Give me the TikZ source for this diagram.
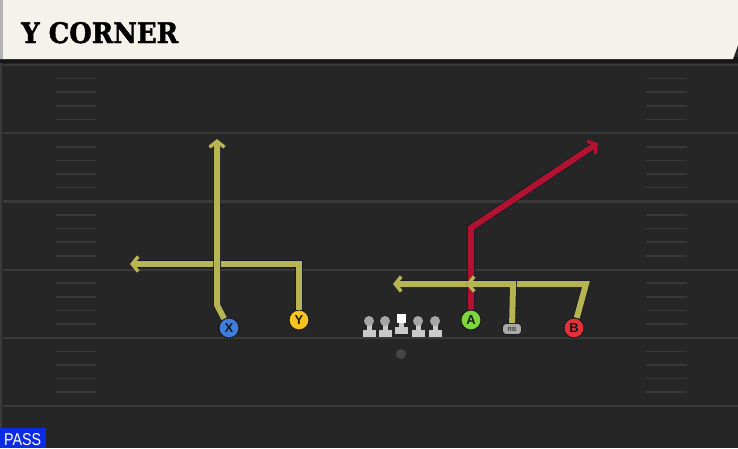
\documentclass[tikz,border=0pt]{standalone}
\usepackage{fontspec}
\setsansfont{Liberation Sans}
\newfontfamily\titlefont{DejaVu Serif}[BoldFeatures={FakeBold=1.5}]
\usetikzlibrary{arrows.meta}
\definecolor{fieldbg}{HTML}{262626}
\definecolor{headerbg}{HTML}{F5F2EB}
\definecolor{shadowbg}{HTML}{161616}
\definecolor{yardgray}{HTML}{3A3A3A}
\definecolor{hashgray}{HTML}{383838}
\definecolor{routeyellow}{HTML}{B7B551}
\definecolor{routered}{HTML}{B01230}
\definecolor{routeedge}{HTML}{15182A}
\definecolor{playeredge}{HTML}{1A1A1A}
\definecolor{xblue}{HTML}{3F7FDB}
\definecolor{yyellow}{HTML}{F6C41E}
\definecolor{agreen}{HTML}{7DD53B}
\definecolor{bred}{HTML}{E3313B}
\definecolor{rbgray}{HTML}{A9A9A9}
\definecolor{linegray}{HTML}{CACACA}
\definecolor{headgray}{HTML}{A5A5A5}
\definecolor{passblue}{HTML}{0B2BE4}
\tikzstyle{yardline}=[draw=yardgray, line width=2.2pt]
\tikzstyle{hashmark}=[draw=hashgray, line width=1.6pt]
\tikzstyle{route}=[line width=6pt, line join=miter,
    -{Straight Barb[length=6pt,width=15pt,line width=3.5pt]},
    preaction={draw=routeedge, line width=7.5pt}]
\tikzstyle{route_yellow}=[route, draw=routeyellow]
\tikzstyle{route_red}=[route, draw=routered]
\tikzstyle{player}=[circle, draw=playeredge, line width=1pt, minimum size=20pt,
    inner sep=0pt, text=playeredge, font=\sffamily\bfseries\fontsize{13}{13}\selectfont]
\begin{document}
\begin{tikzpicture}[x=1pt,y=-1pt]
          \useasboundingbox (0,0) rectangle (738,448);
          \fill[fieldbg] (0,0) rectangle (738,448);
          % header
          \fill[shadowbg] (0,57) rectangle (738,63);
          \fill[headerbg] (0,0) -- (738,0) -- (738,45) -- (733,59) -- (0,59) -- cycle;
          \fill[gray!60] (0,0) rectangle (2.5,59);
          \node[anchor=base west, inner sep=0pt] (title) at (21,43)
            {\resizebox{157pt}{21pt}{\titlefont\bfseries Y CORNER}};
          \draw[yardgray, line width=1.5pt] (1,63) -- (1,448);
          % field lines
          \foreach \yl in {65,133.2,201.4,269.6,337.8,406}
            \draw[yardline] (3,\yl) -- (738,\yl);
          \foreach \yl in {65,133.2,201.4,269.6,337.8}
            \foreach \k in {1,...,4} {
              \draw[hashmark] (56,{\yl+\k*13.6}) -- (96,{\yl+\k*13.6});
              \draw[hashmark] (646,{\yl+\k*13.6}) -- (687,{\yl+\k*13.6});
            }
          % players
          \node[player, fill=xblue] (X) at (229,328){X};
          \node[player, fill=yyellow] (Y) at (299,320){Y};
          \node[player, fill=agreen] (A) at (471,320){A};
          \node[player, fill=bred] (B) at (574,328){B};
          \node[rectangle, rounded corners=3.5pt, fill=rbgray, draw=playeredge, line width=0.8pt,
            minimum width=19pt, minimum height=11pt, inner sep=0pt,
            font=\sffamily\bfseries\fontsize{6}{6}\selectfont, text=black!75] (RB) at (512,329){RB};
          \node[circle, fill=gray!55!black, minimum size=10pt, inner sep=0pt] (QB) at (401,354){};
          % line
          \foreach \lx in {369,385,418,435} {
            \fill[linegray] (\lx-6.5,330) rectangle (\lx+6.5,337);
            \fill[linegray] (\lx-2.5,322) rectangle (\lx+2.5,331);
            \fill[headgray] (\lx,321) circle (5);
          }
          \fill[linegray] (394.5,327) rectangle (407.5,334);
          \fill[linegray] (398.5,321) rectangle (403.5,328);
          \fill[white] (396.5,313.5) rectangle (406,323);
          % coordinates
          \coordinate (x_bend) at (217,305);
          \coordinate (x_end) at (217,139);
          \coordinate (y_bend) at (299,264);
          \coordinate (y_end) at (130,264);
          \coordinate (a_bend) at (471,228);
          \coordinate (a_end) at (598,143);
          \coordinate (b_bend) at (586,284);
          \coordinate (b_end) at (393,284);
          \coordinate (rb_bend) at (513,284);
          \coordinate (rb_end) at (466,284);
          % routes
          \draw[route_red](A) -- (a_bend) -- (a_end);
          \draw[route_yellow](Y) -- (y_bend) -- (y_end);
          \draw[route_yellow](X) -- (x_bend) -- (x_end);
          \draw[route_yellow](B) -- (b_bend) -- (b_end);
          \draw[route_yellow](RB) -- (rb_bend) -- (rb_end);
          % play type
          \fill[passblue] (0,428) rectangle (46,448);
          \node[anchor=base west, inner sep=0pt, text=white] (playtype) at (4,445)
            {\resizebox{37pt}{12pt}{\sffamily PASS}};
        \end{tikzpicture}
\end{document}
